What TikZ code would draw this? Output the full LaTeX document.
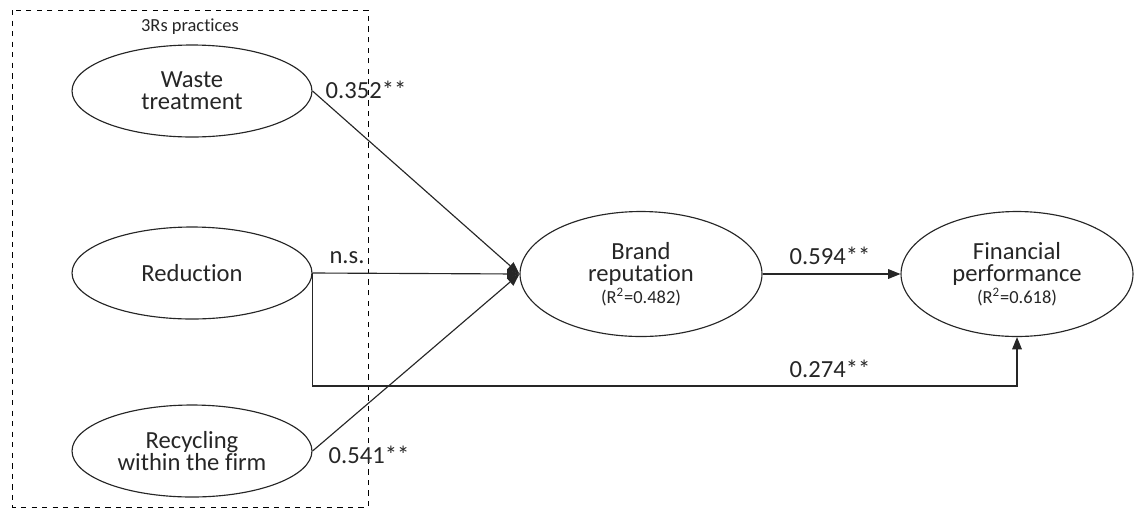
\documentclass[tikz,border=0pt]{standalone}
\usepackage{fontspec}
\setmainfont{Carlito}[Ligatures=NoCommon]
\usetikzlibrary{shapes.geometric,arrows.meta}

\begin{document}
\begin{tikzpicture}[
  x=0.02cm, y=-0.02cm,
  construct/.style={draw=black!85, ellipse, line width=0.65pt, inner sep=0pt,
    align=center, font=\fontsize{14}{14.5}\selectfont},
  arrow/.style={-{Triangle[length=7pt,width=5.5pt]}, line width=0.65pt, draw=black!85},
  coef/.style={font=\fontsize{14}{14.5}\selectfont},
  every node/.style={text=black!85}
]

% Parâmetros gerais
\def\rsq#1{\\[-2pt]{\fontsize{10.5}{11}\selectfont(R\textsuperscript{2}=#1)}}

\useasboundingbox (0,0) rectangle (1135,508);

% ==========================================================
% Bloco 3Rs - práticas
% ==========================================================
\draw[dashed, line width=0.5pt] (12,10) rectangle (368,507);
\node[font=\fontsize{10.5}{11}\selectfont] (titulo) at (190,27) {3Rs practices};

\node[construct, minimum width=4.8cm, minimum height=1.84cm] (waste) at (192,91)
  {Waste\\[-2pt]treatment};
\node[construct, minimum width=4.8cm, minimum height=1.84cm] (reduction) at (192,273)
  {Reduction};
\node[construct, minimum width=4.8cm, minimum height=1.84cm] (recycling) at (192,451)
  {Recycling\\[-2pt]within the firm};

% ==========================================================
% Reputação e desempenho
% ==========================================================
\node[construct, minimum width=4.84cm, minimum height=2.5cm] (brand) at (641,274)
  {Brand\\[-2pt]reputation\rsq{0.482}};
\node[construct, minimum width=4.64cm, minimum height=2.5cm] (financial) at (1017,274)
  {Financial\\[-2pt]performance\rsq{0.618}};

% ==========================================================
% Caminhos
% ==========================================================
\draw[arrow] (waste.east) -- (brand.west);
\draw[arrow] (reduction.east) -- (brand.west);
\draw[arrow] (recycling.east) -- (brand.west);
\draw[arrow] (brand.east) -- (financial.west);

\coordinate (direto) at (830,386);
\draw[arrow] (reduction.east) -- (reduction.east |- direto) -| (financial.south);

\node[coef] (c1) at (366,90) {0.352**};
\node[coef] (c2) at (347,258) {n.s.};
\node[coef] (c3) at (369,455) {0.541**};
\node[coef] (c4) at (830,256) {0.594**};
\node[coef] (c5) at (830,369) {0.274**};

\end{tikzpicture}
\end{document}
